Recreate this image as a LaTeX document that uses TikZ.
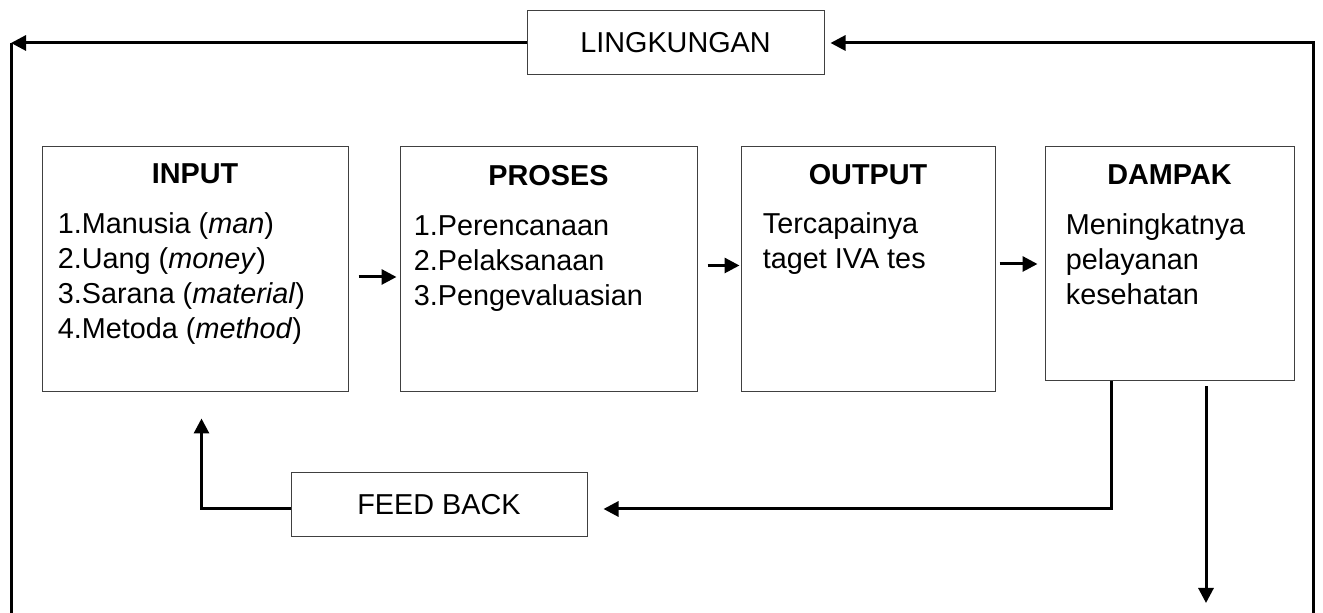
\documentclass[tikz,border=0pt]{standalone}
\usepackage{fontspec}
\setmainfont{Liberation Sans}
\usetikzlibrary{positioning,calc,arrows.meta}

\begin{document}
\begin{tikzpicture}[x=0.5pt, y=0.5pt,
  kotak/.style={draw=black!75, line width=0.5pt, shape=rectangle, minimum height=122.5pt, inner sep=0pt, font=\fontsize{14.4}{17.5}\selectfont},
  judul/.style={inner sep=0pt, font=\fontsize{14.4}{17.5}\selectfont\bfseries},
  isi/.style={inner sep=0pt, anchor=north west, align=left, font=\fontsize{14.4}{17.5}\selectfont},
  panah/.style={line width=1.5pt, -{Triangle[length=7.5pt, width=7.5pt]}},
  garis/.style={line width=1.5pt}]
\useasboundingbox (0,0) rectangle (1323,613);

\node[kotak, minimum width=153pt] (input) at (195,343.5) {};
\node[kotak, minimum width=148.5pt, right=25.5pt of input] (proses) {};
\node[kotak, minimum width=127pt, right=21.5pt of proses] (output) {};
\node[kotak, minimum width=124.5pt, minimum height=117pt, right=24.5pt of output.north east, anchor=north west] (dampak) {};

\node[judul, below=8.5pt of input.north] (inputjudul) {INPUT};
\node[judul, below=9.5pt of proses.north] (prosesjudul) {PROSES};
\node[judul, below=9pt of output.north] (outputjudul) {OUTPUT};
\node[judul, below=9pt of dampak.north] (dampakjudul) {DAMPAK};

\node[isi] (inputisi) at ($(input.north west)+(16,-66)$) {1.Manusia (\textit{man})\\2.Uang (\textit{money})\\3.Sarana (\textit{material})\\4.Metoda (\textit{method})};
\node[isi] (prosesisi) at ($(proses.north west)+(14,-69)$) {1.Perencanaan\\2.Pelaksanaan\\3.Pengevaluasian};
\node[isi] (outputisi) at ($(output.north west)+(22,-66)$) {Tercapainya\\taget IVA tes};
\node[isi] (dampakisi) at ($(dampak.north west)+(21,-67)$) {Meningkatnya\\pelayanan\\kesehatan};

\node[kotak, minimum width=148.5pt, minimum height=32pt] (ling) at (675.5,570) {LINGKUNGAN};
\node[kotak, minimum width=148pt, minimum height=32pt] (fb) at (439,108) {FEED BACK};

\coordinate (kiriatas) at (11,570);
\coordinate (kiribawah) at (11,0);
\coordinate (kananbawah) at (1313,0);
\coordinate (hasil) at (1206,10);

\draw[panah] (ling) -- (kiriatas);
\draw[garis] (kiriatas) -- (kiribawah);
\draw[panah] (kananbawah) |- ($(ling.east)+(6,0)$);

\draw[panah] ($(input.east)+(10,-7.5)$) -- ($(proses.west)+(-3,-7.5)$);
\draw[panah] ($(proses.east)+(10,4)$) -- ($(output.west)+(-1,4)$);
\draw[panah] ($(output.east |- dampak.west)+(4,0)$) -- ($(dampak.west)+(-7,0)$);

\draw[panah] ($(dampak.south west)+(67,0)$) |- ($(fb.east)+(16,-4)$);
\draw[panah] ($(fb.west)+(0,-4)$) -| ($(input.south west)+(160,-26)$);
\draw[panah] ($(dampak.south -| hasil)+(0,-5)$) -- (hasil);
\end{tikzpicture}
\end{document}
